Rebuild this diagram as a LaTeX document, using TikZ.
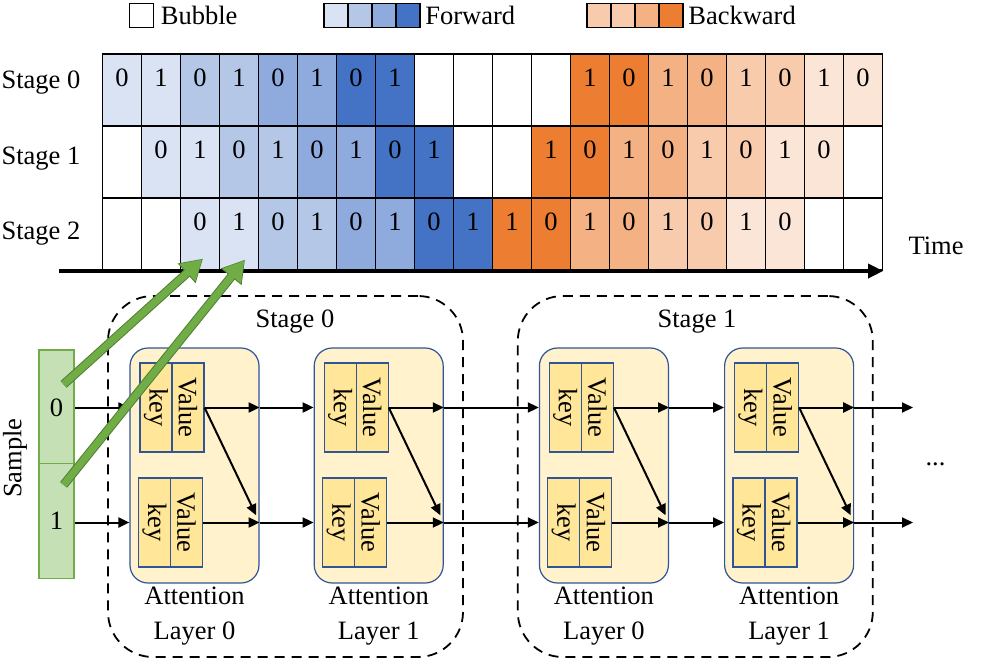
\documentclass[tikz,border=0pt]{standalone}
\usepackage{fontspec}
\setmainfont{Liberation Serif}
\usetikzlibrary{positioning, arrows.meta}

\definecolor{fwone}{HTML}{DAE3F3}
\definecolor{fwtwo}{HTML}{B4C7E7}
\definecolor{fwthree}{HTML}{8FAADC}
\definecolor{fwfour}{HTML}{4472C4}
\definecolor{bwone}{HTML}{FBE5D6}
\definecolor{bwtwo}{HTML}{F8CBAD}
\definecolor{bwthree}{HTML}{F4B183}
\definecolor{bwfour}{HTML}{ED7D31}
\definecolor{layerfill}{HTML}{FFF2CC}
\definecolor{kvfill}{HTML}{FFE699}
\definecolor{boxblue}{HTML}{2F5597}
\definecolor{samplefill}{HTML}{C5E0B4}
\definecolor{samplegreen}{HTML}{70AD47}
\definecolor{darkgreen}{HTML}{507E32}

\begin{document}
\begin{tikzpicture}[x=1pt, y=-1pt,
    font=\fontsize{26.5}{35}\selectfont,
    cell/.style={rectangle, draw, line width=1.3pt, minimum width=39pt, minimum height=72pt, inner sep=0pt},
    legbox/.style={rectangle, draw, line width=1.6pt, minimum size=24pt, inner sep=0pt},
    layerbox/.style={rectangle, rounded corners=18pt, draw=boxblue, line width=1.2pt, fill=layerfill, minimum width=129pt, minimum height=235pt},
    kvbox/.style={rectangle, draw=boxblue, line width=1.2pt, fill=kvfill, minimum width=32pt, minimum height=89pt, inner sep=0pt},
    samplebox/.style={rectangle, draw=samplegreen, line width=1.2pt, fill=samplefill, minimum width=35pt, minimum height=115pt},
    stagebox/.style={rectangle, rounded corners=45pt, draw, dash pattern=on 10pt off 7pt, line width=1.8pt, minimum width=355pt, minimum height=361pt},
    myarrow/.style={-{Triangle[length=11pt, width=10pt]}, line width=2pt},
    timearrow/.style={-{Triangle[length=15pt, width=14pt]}, line width=3.5pt},
    greenarrow/.style={-{Triangle[length=20pt, width=22pt]}, line width=7pt, draw=samplegreen},
    greenedge/.style={-{Triangle[length=22pt, width=25pt]}, line width=9pt, draw=darkgreen}]

    \useasboundingbox (0,0) rectangle (988,667);

    % legend
    \node[legbox, fill=white] (legbubble) at (141.5,15.5) {};
    \node[right=3pt of legbubble] (txtbubble) {Bubble};
    \node[legbox, fill=fwone] (legfw1) at (336,15.5) {};
    \node[legbox, fill=fwtwo, right=-1.6pt of legfw1] (legfw2) {};
    \node[legbox, fill=fwthree, right=-1.6pt of legfw2] (legfw3) {};
    \node[legbox, fill=fwfour, right=-1.6pt of legfw3] (legfw4) {};
    \node[right=1pt of legfw4] (txtforward) {Forward};
    \node[legbox, fill=bwtwo] (legbw1) at (599,15.5) {};
    \node[legbox, fill=bwtwo, right=-1.6pt of legbw1] (legbw2) {};
    \node[legbox, fill=bwthree, right=-1.6pt of legbw2] (legbw3) {};
    \node[legbox, fill=bwfour, right=-1.6pt of legbw3] (legbw4) {};
    \node[right=1pt of legbw4] (txtbackward) {Backward};

    % pipeline schedule
    \node (lblstage0) at (41,83) {Stage 0};
    \node (lblstage1) at (41,159) {Stage 1};
    \node (lblstage2) at (41,234) {Stage 2};

    \foreach \col/\digit [count=\c from 0] in {fwone/0, fwone/1, fwtwo/0, fwtwo/1, fwthree/0, fwthree/1, fwfour/0, fwfour/1, white/{}, white/{}, white/{}, white/{}, bwfour/1, bwfour/0, bwthree/1, bwthree/0, bwtwo/1, bwtwo/0, bwone/1, bwone/0} {
        \node[cell, fill=\col] (c0-\c) at ({122+39*\c}, 90) {};
        \node (d0-\c) at ([yshift=-24pt]c0-\c.north) {\digit};
    }
    \foreach \col/\digit [count=\c from 0] in {white/{}, fwone/0, fwone/1, fwtwo/0, fwtwo/1, fwthree/0, fwthree/1, fwfour/0, fwfour/1, white/{}, white/{}, bwfour/1, bwfour/0, bwthree/1, bwthree/0, bwtwo/1, bwtwo/0, bwone/1, bwone/0, white/{}} {
        \node[cell, fill=\col] (c1-\c) at ({122+39*\c}, 162) {};
        \node (d1-\c) at ([yshift=-24pt]c1-\c.north) {\digit};
    }
    \foreach \col/\digit [count=\c from 0] in {white/{}, white/{}, fwone/0, fwone/1, fwtwo/0, fwtwo/1, fwthree/0, fwthree/1, fwfour/0, fwfour/1, bwfour/1, bwfour/0, bwthree/1, bwthree/0, bwtwo/1, bwtwo/0, bwone/1, bwone/0, white/{}, white/{}} {
        \node[cell, fill=\col] (c2-\c) at ({122+39*\c}, 234) {};
        \node (d2-\c) at ([yshift=-24pt]c2-\c.north) {\digit};
    }

    \coordinate (tstart) at (59,271);
    \draw[timearrow] (tstart) -- (tstart -| c2-19.south east);
    \node (timelbl) at (936,246) {Time};

    % stages and attention layers
    \node[stagebox] (stage0) at (285.5,476.5) {};
    \node[stagebox, right=53pt of stage0] (stage1) {};
    \node (stage0title) at (295,322) {Stage 0};
    \node (stage1title) at (697,322) {Stage 1};

    \node[layerbox] (att00) at (194.5,465.5) {};
    \node[layerbox, right=54pt of att00] (att01) {};
    \node[layerbox, right=95pt of att01] (att10) {};
    \node[layerbox, right=55pt of att10] (att11) {};

    \node[below=0pt of att00, align=center] (att00lbl) {Attention\\Layer 0};
    \node[below=0pt of att01, align=center] (att01lbl) {Attention\\Layer 1};
    \node[below=0pt of att10, align=center] (att10lbl) {Attention\\Layer 0};
    \node[below=0pt of att11, align=center] (att11lbl) {Attention\\Layer 1};

    \coordinate (row0) at (0,407.5);
    \coordinate (row1) at (0,522.5);
    \coordinate (rowend0) at (913,407.5);
    \coordinate (rowend1) at (913,522.5);

    \foreach \lay in {att00, att01, att10, att11} {
        \node[kvbox] (\lay-k0) at ([xshift=26.5pt]\lay.west |- row0) {\rotatebox{-90}{key}};
        \node[kvbox, right=-1.2pt of \lay-k0] (\lay-v0) {\rotatebox{-90}{Value}};
        \node[kvbox] (\lay-k1) at ([xshift=25pt]\lay.west |- row1) {\rotatebox{-90}{key}};
        \node[kvbox, right=-1.2pt of \lay-k1] (\lay-v1) {\rotatebox{-90}{Value}};
        \draw[myarrow] (\lay-v0.east) -- (\lay-v0.east -| \lay.east);
        \draw[myarrow] (\lay-v1.east) -- (\lay-v1.east -| \lay.east);
        \draw[myarrow, shorten >=8pt] (\lay-v0.east) -- (\lay-v1.east -| \lay.east);
    }

    % samples
    \node[samplebox] (s0) at (56.5,407.5) {0};
    \node[samplebox] (s1) at (56.5,521) {1};
    \node[rotate=90] (samplelbl) at (15,458) {Sample};

    \foreach \r in {0,1} {
        \draw[myarrow] (s\r.east |- row\r) -- (att00.west |- row\r);
        \draw[myarrow] (att00.east |- row\r) -- (att01.west |- row\r);
        \draw[myarrow] (att01.east |- row\r) -- (att10.west |- row\r);
        \draw[myarrow] (att10.east |- row\r) -- (att11.west |- row\r);
        \draw[myarrow] (att11.east |- row\r) -- (rowend\r);
    }
    \node (dots) at (935.5,464) {...};

    % samples into the schedule
    \draw[greenedge] ([xshift=-11pt, yshift=-35pt]s0.north east) -- ([xshift=3pt, yshift=12pt]c2-2.south);
    \draw[greenarrow, shorten >=1pt] ([xshift=-11pt, yshift=-35pt]s0.north east) -- ([xshift=3pt, yshift=12pt]c2-2.south);
    \draw[greenedge] ([xshift=-11pt, yshift=-22pt]s1.north east) -- ([xshift=6pt, yshift=11pt]c2-3.south);
    \draw[greenarrow, shorten >=1pt] ([xshift=-11pt, yshift=-22pt]s1.north east) -- ([xshift=6pt, yshift=11pt]c2-3.south);

\end{tikzpicture}
\end{document}
